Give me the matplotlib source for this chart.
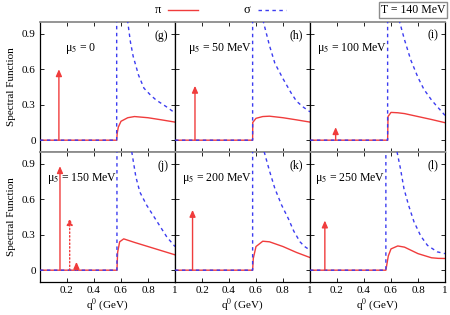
import matplotlib
matplotlib.use("Agg")
import matplotlib.pyplot as plt
from matplotlib.lines import Line2D

plt.rcParams["font.family"] = ["Liberation Serif", "DejaVu Serif"]
plt.rcParams["mathtext.fontset"] = "stix"
plt.rcParams["font.size"] = 8

RED = "#f03c3c"
BLUE = "#3c3cf0"
GRAY = "0.55"

# *******************
# Data, one entry per panel (g)..(l)
# *******************
panel_tags = ["(g)", "(h)", "(i)", "(j)", "(k)", "(l)"]
mu5_labels = ["0", "50 MeV", "100 MeV", "150 MeV", "200 MeV", "250 MeV"]
mu5_label_x = [0.185, 0.10, 0.05, 0.05, 0.05, 0.04]

thresholds = [0.568, 0.575, 0.575, 0.570, 0.575, 0.562]

# pion continuum above threshold
pion_x = [
    [0.568, 0.572, 0.58, 0.60, 0.65, 0.70, 0.80, 0.90, 1.00],
    [0.575, 0.576, 0.60, 0.65, 0.70, 0.80, 0.90, 1.00],
    [0.575, 0.578, 0.60, 0.65, 0.70, 0.80, 0.90, 1.00],
    [0.570, 0.575, 0.59, 0.62, 0.70, 0.80, 0.90, 1.00],
    [0.575, 0.58, 0.60, 0.65, 0.70, 0.80, 0.90, 1.00],
    [0.562, 0.58, 0.60, 0.65, 0.70, 0.80, 0.90, 0.95, 1.00],
]
pion_y = [
    [0.0, 0.06, 0.11, 0.16, 0.19, 0.20, 0.19, 0.172, 0.153],
    [0.0, 0.15, 0.185, 0.20, 0.203, 0.19, 0.172, 0.153],
    [0.0, 0.20, 0.235, 0.232, 0.225, 0.20, 0.175, 0.148],
    [0.0, 0.15, 0.24, 0.265, 0.235, 0.20, 0.165, 0.13],
    [0.0, 0.10, 0.20, 0.245, 0.24, 0.20, 0.15, 0.107],
    [0.0, 0.12, 0.18, 0.205, 0.195, 0.14, 0.105, 0.10, 0.099],
]

# sigma continuum, descending branch after it comes back into view
sigma_x = [
    [0.60, 0.65, 0.67, 0.69, 0.73, 0.77, 0.82, 0.86, 0.94, 1.00],
    [0.62, 0.655, 0.70, 0.74, 0.80, 0.86, 0.90, 0.95, 1.00],
    [0.63, 0.664, 0.70, 0.746, 0.80, 0.844, 0.90, 0.93, 1.00],
    [0.64, 0.68, 0.71, 0.74, 0.79, 0.84, 0.89, 0.94, 1.00],
    [0.63, 0.661, 0.70, 0.74, 0.79, 0.84, 0.88, 0.926, 0.96, 1.00],
    [0.61, 0.645, 0.67, 0.696, 0.73, 0.77, 0.82, 0.87, 0.943, 1.00],
]
sigma_y = [
    [2.0, 1.0, 0.83, 0.71, 0.55, 0.44, 0.38, 0.34, 0.28, 0.23],
    [2.0, 1.0, 0.80, 0.65, 0.52, 0.40, 0.33, 0.28, 0.24],
    [2.0, 1.0, 0.85, 0.68, 0.53, 0.43, 0.34, 0.30, 0.21],
    [2.0, 1.0, 0.79, 0.66, 0.55, 0.46, 0.37, 0.28, 0.20],
    [2.0, 1.0, 0.84, 0.69, 0.55, 0.435, 0.33, 0.24, 0.20, 0.17],
    [2.0, 1.0, 0.86, 0.69, 0.55, 0.41, 0.29, 0.21, 0.155, 0.14],
]

# pion pole delta functions: (position, height, dotted?)
poles = [
    [(0.14, 0.58, False)],
    [(0.148, 0.44, False)],
    [(0.19, 0.09, False)],
    [(0.148, 0.86, False), (0.22, 0.42, True), (0.27, 0.05, False)],
    [(0.13, 0.49, False)],
    [(0.11, 0.40, False)],
]

yticks = [0, 0.3, 0.6, 0.9]
xticks = [0.2, 0.4, 0.6, 0.8, 1.0]
xtick_labels = ["0.2", "0.4", "0.6", "0.8", "1"]

fig = plt.figure(figsize=(4.5, 3.15), dpi=100)

left, width, height = 40 / 450, 135 / 450, 130 / 315
row_bottoms = [163 / 315, 33 / 315]

for i in range(6):
    row, col = divmod(i, 3)
    ax = fig.add_axes([left + col * width, row_bottoms[row], width, height])
    thr = thresholds[i]

    # pion: zero below threshold, continuum above
    ax.plot([0] + pion_x[i], [0] + pion_y[i], color=RED, lw=1.0, zorder=2)
    # sigma: zero, vertical wall at threshold, then descending tail
    ax.plot([0, thr, thr] + sigma_x[i], [0, 0, 3.0] + sigma_y[i],
            color=BLUE, lw=1.0, dashes=(2.5, 2.5), zorder=3)

    for pos, h, dotted in poles[i]:
        ax.annotate("", xy=(pos, h + 0.02), xytext=(pos, 0),
                    arrowprops=dict(arrowstyle="-|>,head_length=0.5,head_width=0.22",
                                    color=RED, lw=1.0, shrinkA=0, shrinkB=0,
                                    linestyle=":" if dotted else "-"),
                    zorder=4)

    ax.set_xlim(0, 1)
    ax.set_ylim(-0.1, 1.0)
    ax.set_xticks(xticks)
    ax.set_yticks(yticks)
    ax.tick_params(direction="in", top=True, right=True, length=3, width=0.6,
                   labelsize=8, pad=3)
    if row == 0:
        ax.set_xticklabels([])
    else:
        ax.set_xticklabels(xtick_labels)
        ax.set_xlabel("q$^0$ (GeV)", fontsize=8, labelpad=1)
    if col == 0:
        ax.set_yticklabels(["0", "0.3", "0.6", "0.9"])
        ax.set_ylabel("Spectral Function", fontsize=8, labelpad=4)
    else:
        ax.set_yticklabels([])

    for side in ["left", "right"]:
        ax.spines[side].set_linewidth(0.9)
    ax.spines["top"].set_color(GRAY)
    ax.spines["top"].set_linewidth(1.3)
    ax.spines["bottom"].set_color(GRAY if row == 0 else "black")
    ax.spines["bottom"].set_linewidth(1.3 if row == 0 else 0.9)

    ax.text(mu5_label_x[i], 0.80, "μ$_5$ = " + mu5_labels[i],
            transform=ax.transAxes, fontsize=8.5, va="center", ha="left")
    ax.text(0.95, 0.895, panel_tags[i], transform=ax.transAxes,
            fontsize=8.5, va="center", ha="right")

# legend along the top
fig.text(158 / 450, 1 - 10 / 315, "π", fontsize=9, va="center", ha="center")
fig.add_artist(Line2D([168 / 450, 198 / 450], [1 - 10 / 315] * 2,
                      color=RED, lw=1.0))
fig.text(247 / 450, 1 - 10 / 315, "σ", fontsize=9, va="center", ha="center")
fig.add_artist(Line2D([258 / 450, 286 / 450], [1 - 10 / 315] * 2,
                      color=BLUE, lw=1.0, dashes=(2.5, 2.5)))
fig.text(413 / 450, 1 - 10 / 315, "T = 140 MeV", fontsize=8.5,
         va="center", ha="center",
         bbox=dict(boxstyle="square,pad=0.15", facecolor="white",
                   edgecolor=GRAY, linewidth=1.0))

fig.savefig("out.png", dpi=100)
